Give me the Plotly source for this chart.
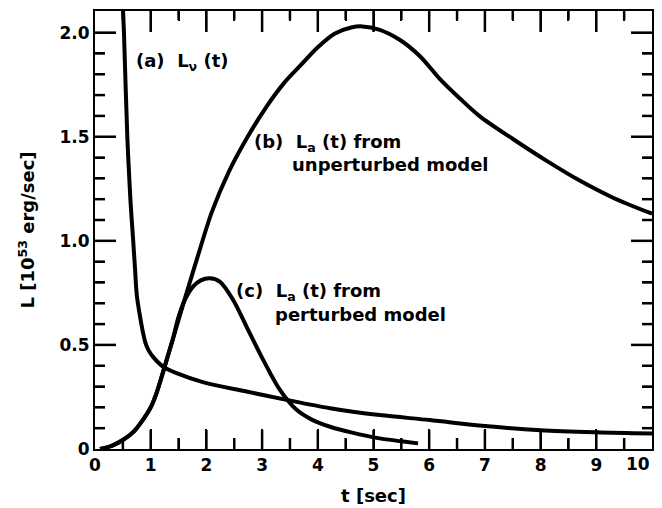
import plotly.graph_objects as go

# (a) L_nu(t)
a_t = [0.50, 0.52, 0.58, 0.635, 0.686, 0.72, 0.75, 0.8, 0.85, 0.9, 0.96, 1.05, 1.22, 1.465, 1.95, 2.72, 3.44, 4.22, 5.11, 6.01, 7.0, 8.0, 9.0, 10.0]
a_L = [2.13, 2.0, 1.5, 1.2, 1.0, 0.86, 0.74, 0.65, 0.575, 0.515, 0.475, 0.44, 0.396, 0.364, 0.32, 0.276, 0.236, 0.196, 0.163, 0.139, 0.11, 0.09, 0.08, 0.074]

# (b) L_a(t) from unperturbed model
b_t = [0.09, 0.3, 0.5, 0.7, 0.86, 1.0, 1.1, 1.2, 1.3, 1.4, 1.5, 1.65, 1.85, 2.1, 2.4, 2.72, 3.08, 3.4, 3.68, 4.0, 4.3, 4.6, 4.8, 5.1, 5.47, 5.83, 6.19, 6.55, 6.91, 7.51, 8.11, 8.71, 9.3, 10.0]
b_L = [0.0, 0.015, 0.043, 0.085, 0.14, 0.2, 0.265, 0.35, 0.44, 0.53, 0.62, 0.755, 0.93, 1.14, 1.33, 1.49, 1.645, 1.76, 1.84, 1.93, 1.995, 2.025, 2.03, 2.015, 1.966, 1.888, 1.778, 1.684, 1.598, 1.488, 1.384, 1.288, 1.207, 1.13]

# (c) L_a(t) from perturbed model
c_t = [0.09, 0.3, 0.5, 0.7, 0.86, 1.0, 1.1, 1.2, 1.3, 1.4, 1.5, 1.62, 1.76, 1.9, 2.06, 2.24, 2.48, 2.72, 3.02, 3.32, 3.62, 3.9, 4.22, 4.6, 5.11, 5.5, 5.8]
c_L = [0.0, 0.015, 0.043, 0.085, 0.14, 0.2, 0.265, 0.35, 0.44, 0.53, 0.635, 0.72, 0.78, 0.81, 0.82, 0.804, 0.716, 0.588, 0.428, 0.284, 0.188, 0.14, 0.107, 0.08, 0.051, 0.037, 0.027]

x_ticks = [0, 1, 2, 3, 4, 5, 6, 7, 8, 9, 10]
x_ticktext = ["0", "1", "2", "3", "4", "5", "6", "7", "8", "9", ""]
y_ticks = [0, 0.5, 1.0, 1.5, 2.0]
y_ticktext = ["0", "0.5", "1.0", "1.5", "2.0"]
x_minor_step = 0.5
y_minor_step = 0.1

FONT = "DejaVu Sans"
X_RANGE = [0, 10]
Y_RANGE = [0, 2.104]

# figure geometry (the page body adds an 8px margin, so the figure is 8px smaller than the window)
FIG_W, FIG_H = 654, 500
MARGIN = dict(l=87, r=10, t=3, b=59)
plot_w = FIG_W - MARGIN["l"] - MARGIN["r"]
plot_h = FIG_H - MARGIN["t"] - MARGIN["b"]
xpp = (X_RANGE[1] - X_RANGE[0]) / plot_w   # data units per pixel
ypp = (Y_RANGE[1] - Y_RANGE[0]) / plot_h

fig = go.Figure()
for t, L in [(a_t, a_L), (b_t, b_L), (c_t, c_L)]:
    fig.add_trace(go.Scatter(x=t, y=L, mode="lines",
                             line=dict(color="black", width=4, shape="spline", smoothing=0.9),
                             showlegend=False, hoverinfo="skip"))

# inward tick marks on all four sides at the axis tick values
tx, ty = [], []
n_xminor = int(round((X_RANGE[1] - X_RANGE[0]) / x_minor_step))
for i in range(1, n_xminor):
    v = X_RANGE[0] + i * x_minor_step
    major = any(abs(v - m) < 1e-9 for m in x_ticks)
    lb, lt = (19, 21) if major else (11, 9)
    tx += [v, v, None, v, v, None]
    ty += [Y_RANGE[0], Y_RANGE[0] + lb * ypp, None, Y_RANGE[1] - lt * ypp, Y_RANGE[1], None]
n_yminor = int((Y_RANGE[1] - Y_RANGE[0]) / y_minor_step + 1e-9)
for i in range(1, n_yminor + 1):
    v = Y_RANGE[0] + i * y_minor_step
    if v > Y_RANGE[1] - 0.03:
        continue
    major = any(abs(v - m) < 1e-9 for m in y_ticks)
    ln = 21 if major else 10
    tx += [X_RANGE[0], X_RANGE[0] + ln * xpp, None, X_RANGE[1] - ln * xpp, X_RANGE[1], None]
    ty += [v, v, None, v, v, None]
fig.add_trace(go.Scatter(x=tx, y=ty, mode="lines", line=dict(color="black", width=2.5),
                         connectgaps=False, showlegend=False, hoverinfo="skip"))

axis_common = dict(
    showgrid=False, zeroline=False, showline=True, linecolor="black", linewidth=2,
    mirror="ticks", ticks="inside", ticklen=20, tickwidth=2, tickcolor="black",
    tickfont=dict(family=FONT, size=17, color="black", weight="bold"),
    automargin=False,
)

fig.update_xaxes(range=X_RANGE, tickmode="array", tickvals=x_ticks, ticktext=x_ticktext,
                 minor=dict(dtick=x_minor_step, ticks="inside", ticklen=10, tickwidth=2, tickcolor="black"),
                 title=dict(text="t [sec]", font=dict(family=FONT, size=18, color="black", weight="bold"), standoff=15),
                 **axis_common)
fig.update_yaxes(range=Y_RANGE, tickmode="array", tickvals=y_ticks, ticktext=y_ticktext,
                 minor=dict(dtick=y_minor_step, ticks="inside", ticklen=10, tickwidth=2, tickcolor="black"),
                 title=dict(text="L [10<sup>53</sup> erg/sec]", font=dict(family=FONT, size=18, color="black", weight="bold"), standoff=20),
                 **axis_common)

ann_font = dict(family=FONT, size=18, color="black", weight="bold")
labels = [
    ("(a)\u00a0\u00a0L<sub>\u03bd</sub> (t)", 0.70, 1.86),
    ("(b)\u00a0\u00a0L<sub>a</sub> (t) from", 2.81, 1.47),
    ("unperturbed model", 3.50, 1.365),
    ("(c)\u00a0\u00a0L<sub>a</sub> (t) from", 2.49, 0.755),
    ("perturbed model", 3.20, 0.645),
]
for text, x, y in labels:
    fig.add_annotation(x=x, y=y, text=text, showarrow=False, xanchor="left", yanchor="middle",
                       font=ann_font)
# last x tick label, right-aligned at the axis end as in the original
fig.add_annotation(x=x_ticks[-1], y=0, yref="paper", yanchor="top", xanchor="right", yshift=-3,
                   text=str(x_ticks[-1]), showarrow=False,
                   font=dict(family=FONT, size=17, color="black", weight="bold"))

fig.update_layout(width=FIG_W, height=FIG_H, margin=MARGIN,
                  template="none", plot_bgcolor="white", paper_bgcolor="white")

fig.write_html("out.html")
